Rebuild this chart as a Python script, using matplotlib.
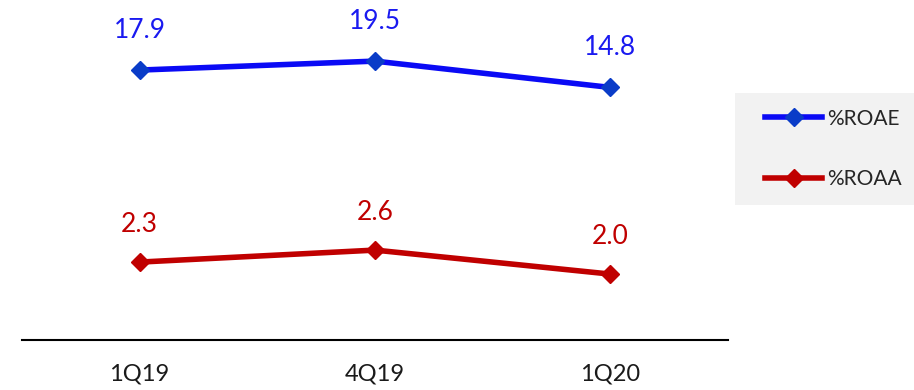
import matplotlib
matplotlib.use("Agg")
import matplotlib.pyplot as plt
from matplotlib.patches import Rectangle

plt.rcParams['font.family'] = ['Lato', 'DejaVu Sans']

quarters = ['1Q19', '4Q19', '1Q20']
roae = [17.9, 19.5, 14.8]
roaa = [2.3, 2.6, 2.0]

blue = '#0a0af5'
red = '#c00000'

fig = plt.figure(figsize=(9.14, 3.9), dpi=100)
ax = fig.add_axes([0.024, 0.128, 0.7725, 0.846])
ax2 = ax.twinx()

x = list(range(len(quarters)))
ax.plot(x, roae, color=blue, lw=4, marker='D', ms=9, mfc='#0a3cc8', mec='#0a3cc8', label='%ROAE', zorder=3)
ax2.plot(x, roaa, color=red, lw=4, marker='D', ms=9, mfc=red, mec=red, label='%ROAA', zorder=3)

for xi, v in zip(x, roae):
    ax.annotate(f'{v:.1f}', (xi, v), xytext=(0, 28.5), textcoords='offset points',
                ha='center', va='center', fontsize=19, color='#1a1af0')
for xi, v in zip(x, roaa):
    ax2.annotate(f'{v:.1f}', (xi, v), xytext=(0, 27), textcoords='offset points',
                 ha='center', va='center', fontsize=19, color=red)

ax.set_xlim(-0.5, 2.5)
ax.set_ylim(-30.3, 28.6)
ax2.set_ylim(0.35, 8.6)

for a in (ax, ax2):
    for s in ('top', 'right', 'left'):
        a.spines[s].set_visible(False)
    a.set_yticks([])
ax2.spines['bottom'].set_visible(False)
ax.spines['bottom'].set_linewidth(1.5)
ax.spines['bottom'].set_color('black')

ax.set_xticks(x)
ax.set_xticklabels(quarters, fontsize=17, color='#1a1a1a')
ax.tick_params(axis='x', length=0, pad=17)

# legend background panel
fig.patches.append(Rectangle((735 / 914, 1 - 205 / 390), 179 / 914, 112 / 390,
                             transform=fig.transFigure, facecolor='#f2f2f2',
                             edgecolor='none', zorder=0))

h1, l1 = ax.get_legend_handles_labels()
h2, l2 = ax2.get_legend_handles_labels()
leg = fig.legend(h1 + h2, l1 + l2, loc='center left', bbox_to_anchor=(765 / 914, 1 - 149 / 390),
                 bbox_transform=fig.transFigure, fontsize=15, frameon=False,
                 handlelength=2.75, handletextpad=0.25, labelspacing=1.95,
                 borderpad=0, borderaxespad=0)
for t in leg.get_texts():
    t.set_color('#262626')

fig.savefig('out.png', dpi=100)
